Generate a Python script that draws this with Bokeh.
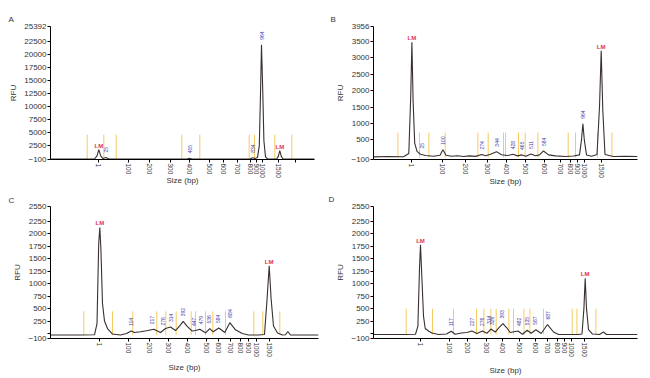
import numpy as np
from bokeh.plotting import figure
from bokeh.models import Range1d, FixedTicker
from bokeh.layouts import column, row
from bokeh.embed import file_html
from bokeh.resources import INLINE
from bokeh.core.properties import value

SIZE_LABELS = ["1", "100", "200", "300", "400", "500", "600", "700", "800", "900", "1000", "1500"]

# ---------------- Panel A ----------------
A_time = [0, 44, 46.5, 48.3, 50.2, 52.5, 54, 55.2, 56.5, 58.5, 136.5, 139, 141.5, 199.5, 202, 204.5,
          207, 208.8, 210, 211, 212.2, 213.4, 215, 217, 226.2, 227.8, 229.3, 230.8, 232.5, 264]
A_rfu = [0, 0, 600, 1800, 600, 80, 200, 300, 180, 0, 0, 150, 0, 0, 220, 80,
         300, 2500, 12500, 21900, 13500, 3500, 400, 0, 0, 500, 1600, 500, 0, 0]
A_xticks = [47.7, 77.7, 99, 120, 139, 159, 173, 187, 200, 206, 212, 228, 245]
A_xlabels = SIZE_LABELS + [""]
A_yticks = [-100, 2500, 5000, 7500, 10000, 12500, 15000, 17500, 20000, 22500, 25392]
A_marks = [36.7, 53.3, 65.7, 131.3, 149.3, 198.7, 204.0, 224.3, 241.3]
A_peak_x = [55.2, 139, 202, 211]
A_peak_rfu = [300, 150, 220, 21900]
A_peak_lab = ["25", "405", "834", "964"]
A_lm_x = [48.3, 229.3]
A_lm_rfu = [1800, 1600]

# ---------------- Panel B ----------------
B_time = [0, 15, 30, 35.3, 37.2, 38.4, 39.6, 41.2, 43.5, 47, 52, 60, 66.5, 69.4, 72.5, 78, 84, 90, 96,
          102, 108.4, 112, 117, 123, 128, 134, 139.4, 144, 148.4, 152.5, 157.4, 162, 166, 170, 175,
          182, 192, 200, 206, 208, 209.4, 210.8, 213, 218, 223.5, 226, 227.7, 229.3, 231.5, 240, 252, 264]
B_rfu = [-20, -10, -15, 80, 1800, 3476, 1700, 400, 150, 60, 20, 0, 30, 200, 30, 0, 15, -10, 10,
         -5, 50, 15, 60, 140, 45, 20, 60, 10, 40, 0, 70, 15, 40, 160, 40,
         10, -10, 5, 40, 500, 990, 500, 40, 0, 50, 1500, 3215, 1400, 50, -10, 0, -10]
B_xticks = [38, 69, 91.7, 114, 133.4, 152.4, 170.7, 186.7, 196.7, 204.4, 211, 228.4]
B_xlabels = SIZE_LABELS
B_yticks = [-100, 500, 1000, 1500, 2000, 2500, 3000, 3500, 3956]
B_marks = [24.4, 46.0, 55.4, 71.7, 104.4, 114.7, 130.0, 132.0, 145.0, 151.7, 164.4, 194.7, 202.0, 224.0, 238.4]
B_peak_x = [48, 69.4, 108.4, 123, 139.4, 148.4, 157.4, 170, 209.4]
B_peak_rfu = [80, 200, 50, 140, 60, 40, 70, 160, 990]
B_peak_lab = ["25", "100", "274", "344", "428", "465", "511", "584", "964"]
B_lm_x = [38.4, 227.7]
B_lm_rfu = [3476, 3215]

# ---------------- Panel C ----------------
C_time = [0, 30, 44, 46.5, 48.2, 49.3, 50.4, 52, 54, 57, 62, 70, 76, 80.7, 84, 90, 96, 103.3, 110, 115,
          120, 125, 129, 132.7, 136.5, 141.7, 145, 149.3, 155, 159.3, 162.7, 168.3, 174.3, 179.3, 185,
          191.7, 198, 208, 214, 216.6, 218.7, 220.6, 223, 227, 232, 235, 237.3, 240, 268]
C_rfu = [-30, -30, -25, 200, 1800, 2130, 1700, 600, 250, 100, -10, -30, 0, 50, 20, 35, 55, 85, 20, 100,
         130, 60, 150, 245, 150, 50, 60, 85, 15, 100, 35, 110, 20, 218, 75,
         0, -30, -30, -20, 700, 1362, 700, 150, 10, -30, -25, 40, -30, -30]
C_xticks = [48.7, 77.7, 98.7, 118.3, 137.3, 156, 168.3, 180, 190.3, 198.3, 205.7, 219.3]
C_xlabels = SIZE_LABELS
C_yticks = [-100, 0, 250, 500, 750, 1000, 1250, 1500, 1750, 2000, 2250, 2550]
C_marks = [33.3, 62.0, 82.3, 106.3, 115.3, 125.7, 140.7, 145.0, 155.0, 162.3, 175.0, 203.3, 212.3, 229.3]
C_peak_x = [80.7, 101.7, 112.3, 120, 132.7, 143.3, 150, 158.3, 167.3, 179.3]
C_peak_rfu = [50, 85, 60, 130, 245, 50, 85, 100, 110, 218]
C_peak_lab = ["114", "217", "276", "314", "392", "447", "479", "536", "584", "684"]
C_lm_x = [49.3, 218.7]
C_lm_rfu = [2130, 1362]

# ---------------- Panel D ----------------
D_time = [0, 30, 42, 44.4, 46, 47, 48, 50, 51.7, 55.7, 58.4, 65, 73, 77.7, 81.7, 88, 93.4, 98.4, 103.4,
          109, 113.4, 117.4, 121.7, 125.5, 129.4, 133, 136.7, 144.4, 149, 153.7, 157.7, 162.4, 167.7,
          174, 180, 185, 195, 205, 208.5, 210.4, 211.7, 213, 215, 219, 226, 230, 233, 264]
D_rfu = [-20, -20, -15, 150, 1300, 1783, 1300, 350, 100, 40, 10, -20, -10, 45, -15, 10, 20, 50, 0,
         50, 5, 90, 30, 120, 200, 120, 20, 50, -15, 65, 5, 75, 0,
         180, 30, -20, -20, -20, -10, 500, 1108, 500, 80, -10, -20, 30, -20, -20]
D_xticks = [46.7, 75.7, 94, 112.7, 129.4, 146, 161.7, 174, 184, 190.7, 198, 211]
D_xlabels = SIZE_LABELS
D_yticks = [-100, 0, 250, 500, 750, 1000, 1250, 1500, 1750, 2000, 2250, 2550]
D_marks = [32.7, 59.0, 80.0, 103.0, 110.4, 117.4, 122.7, 135.4, 140.0, 150.4, 156.4, 170.0, 198.7, 203.4, 222.4]
D_peak_x = [77.4, 98.4, 108.4, 115, 118.4, 128.4, 145, 153.4, 161.7, 174]
D_peak_rfu = [45, 50, 50, 90, 70, 200, 50, 65, 75, 180]
D_peak_lab = ["117", "227", "276", "314", "326", "393", "482", "535", "587", "687"]
D_lm_x = [47, 211.7]
D_lm_rfu = [1783, 1108]

FONT = "Liberation Sans"
TRACE = "#3a3030"
MARK = "#F5C650"
LMC = "#E2304F"
BLUE = "#4340B0"
AX = "#333333"


def panel(letter, t, rfu, xmax, xt, xl, yt, ylo, yhi, marks, mk_bot, mk_top, px, py, pl, lmx, lmy,
          w, h, borders, title_offset, title_standoff, xlabel_standoff):
    bl, br, bt, bb = borders
    p = figure(width=w, height=h, output_backend="svg", toolbar_location=None,
               x_range=Range1d(0, xmax), y_range=Range1d(ylo, yhi),
               min_border_left=bl, min_border_right=br, min_border_top=bt, min_border_bottom=bb)
    p.outline_line_color = None
    p.grid.visible = False
    p.background_fill_color = "white"
    p.border_fill_color = "white"

    p.title.text = letter
    p.title.align = "left"
    p.title.offset = title_offset
    p.title.standoff = title_standoff
    p.title.text_font_size = "8px"
    p.title.text_font = FONT
    p.title.text_font_style = "normal"
    p.title.text_color = AX

    xa = p.xaxis[0]
    xa.ticker = FixedTicker(ticks=xt)
    xa.major_label_overrides = {float(k): v for k, v in zip(xt, xl)}
    xa.major_label_orientation = "vertical"
    xa.major_label_text_font_size = "6.5px"
    xa.major_label_text_font = FONT
    xa.major_label_text_color = AX
    xa.major_label_standoff = 1
    xa.major_tick_out = 3
    xa.major_tick_in = 0
    xa.minor_tick_line_color = None
    xa.axis_line_color = "black"
    xa.major_tick_line_color = "black"
    xa.axis_label = "Size (bp)"
    xa.axis_label_standoff = xlabel_standoff
    xa.axis_label_text_font_size = "8px"
    xa.axis_label_text_font = FONT
    xa.axis_label_text_font_style = "normal"
    xa.axis_label_text_color = AX

    ya = p.yaxis[0]
    ya.ticker = FixedTicker(ticks=yt)
    ya.major_label_overrides = {0: ""} if 0 in yt else {}
    ya.major_label_text_font_size = "8px"
    ya.major_label_text_font = FONT
    ya.major_label_text_color = AX
    ya.major_label_standoff = 1
    ya.major_tick_out = 3
    ya.major_tick_in = 0
    ya.minor_tick_line_color = None
    ya.axis_line_color = "black"
    ya.major_tick_line_color = "black"
    ya.axis_label = "RFU"
    ya.axis_label_standoff = 3
    ya.axis_label_text_font_size = "8px"
    ya.axis_label_text_font = FONT
    ya.axis_label_text_font_style = "normal"
    ya.axis_label_text_color = AX

    n = len(marks)
    p.segment(x0=marks, y0=[mk_bot] * n, x1=marks, y1=[mk_top] * n,
              line_color=MARK, line_width=1, line_alpha=0.9)
    p.line(t, rfu, line_color=TRACE, line_width=1.1)

    p.text(x=px, y=py, text=pl, angle=np.pi / 2, text_align="left", text_baseline="middle",
           y_offset=-5, text_font_size="5px", text_color=BLUE, text_font=value(FONT))
    p.text(x=lmx, y=lmy, text=["LM"] * len(lmx), text_align="center", text_baseline="bottom",
           y_offset=-1, text_font_size="6px", text_font_style="bold", text_color=LMC,
           text_font=value(FONT))
    return p


pA = panel("A", A_time, A_rfu, 264, A_xticks, A_xlabels, A_yticks, -100, 25392, A_marks, -100, 4650,
           A_peak_x, A_peak_rfu, A_peak_lab, A_lm_x, A_lm_rfu,
           325, 189, (50, 11, 26, 29), -42, 6, -5)
pB = panel("B", B_time, B_rfu, 264, B_xticks, B_xlabels, B_yticks, -100, 3956, B_marks, -40, 720,
           B_peak_x, B_peak_rfu, B_peak_lab, B_lm_x, B_lm_rfu,
           325, 189, (48, 13, 25, 30), -43, 6, -4)
pC = panel("C", C_time, C_rfu, 268, C_xticks, C_xlabels, C_yticks, -100, 2550, C_marks, -30, 445,
           C_peak_x, C_peak_rfu, C_peak_lab, C_lm_x, C_lm_rfu,
           325, 189, (50, 7, 14, 37), -42, 4, 3)
pD = panel("D", D_time, D_rfu, 264, D_xticks, D_xlabels, D_yticks, -100, 2550, D_marks, -20, 497,
           D_peak_x, D_peak_rfu, D_peak_lab, D_lm_x, D_lm_rfu,
           325, 189, (48, 13, 16, 40), -45, 6, 6)

layout = column(row(pA, pB, spacing=0), row(pC, pD, spacing=0), spacing=0)
open("out.html", "w").write(file_html(layout, INLINE))
